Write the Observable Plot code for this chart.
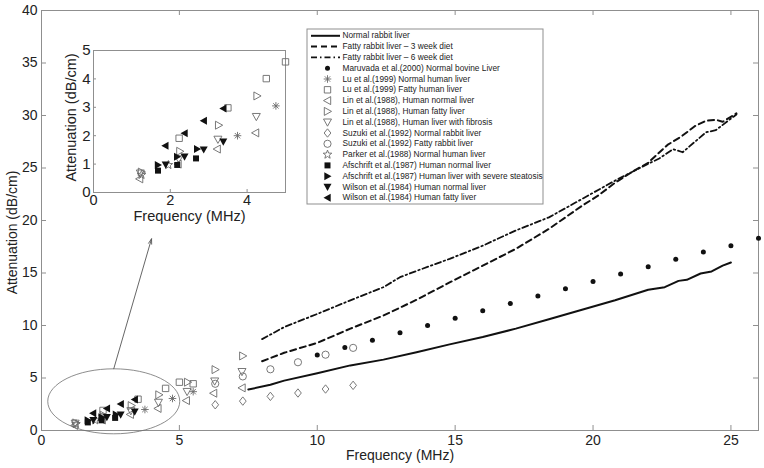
<!DOCTYPE html>
<html><head><meta charset="utf-8">
<script src="https://cdn.jsdelivr.net/npm/d3@7"></script>
<script src="https://cdn.jsdelivr.net/npm/@observablehq/plot@0.6"></script>
<style>
body{margin:0;background:#fff;}
#wrap{position:relative;width:764px;height:468px;overflow:hidden;background:#fff;}
#wrap svg{position:absolute;overflow:visible;}
</style></head><body><div id="wrap"></div>
<script>
// ---------------- data ----------------
const xTicks = [0, 5, 10, 15, 20, 25];
const yTicks = [0, 5, 10, 15, 20, 25, 30, 35, 40];
const insetXTicks = [0, 2, 4];
const insetYTicks = [0, 1, 2, 3, 4, 5];

const normalRabbitF = [7.5, 8.3, 8.8, 10.0, 11.2, 12.4, 13.6, 14.8, 16.0, 17.2, 18.4, 19.6, 20.8, 22.0, 22.6, 23.1, 23.4, 23.9, 24.3, 24.7, 25.0];
const normalRabbitA = [3.9, 4.35, 4.75, 5.45, 6.2, 6.75, 7.45, 8.2, 8.9, 9.7, 10.6, 11.5, 12.4, 13.4, 13.65, 14.25, 14.35, 14.95, 15.15, 15.7, 16.0];

const fatty3F = [8.0, 8.8, 10.0, 11.2, 12.4, 13.6, 14.8, 16.0, 17.2, 18.4, 19.6, 20.2, 20.8, 21.4, 22.0, 22.7, 23.2, 23.7, 24.1, 24.45, 24.7, 24.95, 25.2];
const fatty3A = [6.6, 7.4, 8.35, 9.7, 10.95, 12.45, 14.1, 15.7, 17.3, 19.2, 21.4, 22.4, 23.6, 24.6, 25.5, 27.2, 28.0, 29.0, 29.5, 29.6, 29.4, 29.8, 30.2];

const fatty6F = [8.0, 8.8, 10.0, 11.2, 12.4, 13.0, 13.6, 14.8, 16.0, 17.2, 18.4, 19.6, 20.8, 22.0, 22.4, 22.9, 23.25, 23.65, 24.1, 24.45, 24.85, 25.2];
const fatty6A = [8.7, 9.85, 11.1, 12.4, 13.65, 14.6, 15.2, 16.35, 17.6, 19.05, 20.3, 22.05, 23.8, 25.4, 25.9, 26.8, 26.5, 27.4, 28.4, 28.6, 29.4, 30.1];

const maruvadaF = [10, 11, 12, 13, 14, 15, 16, 17, 18, 19, 20, 21, 22, 23, 24, 25, 26];
const maruvadaA = [7.2, 7.9, 8.6, 9.3, 10.0, 10.7, 11.4, 12.1, 12.8, 13.5, 14.2, 14.9, 15.6, 16.3, 17.0, 17.6, 18.3];

const luNormalF = [3.75, 4.75, 5.5];
const luNormalA = [2.0, 3.05, 3.7];
const luFattyF = [2.23, 3.5, 4.5, 5.0, 5.5];
const luFattyA = [1.91, 2.98, 4.01, 4.6, 4.45];

const linNormalF = [1.2, 2.2, 3.22, 4.22, 5.25, 6.24, 7.27];
const linNormalA = [0.48, 1.0, 1.53, 2.1, 2.85, 3.55, 4.06];
const linFattyF = [1.25, 2.25, 3.26, 4.26, 5.3, 6.3, 7.3];
const linFattyA = [0.72, 1.45, 2.37, 3.4, 4.6, 5.8, 7.1];
const linFibrosisF = [1.22, 2.22, 3.24, 4.24, 5.28, 6.28, 7.27];
const linFibrosisA = [0.68, 1.18, 1.87, 2.67, 3.7, 4.7, 5.6];

const suzukiNormalF = [6.3, 7.3, 8.3, 9.3, 10.3, 11.3];
const suzukiNormalA = [2.45, 2.8, 3.25, 3.57, 3.95, 4.3];
const suzukiFattyF = [6.3, 7.3, 8.3, 9.3, 10.3, 11.3];
const suzukiFattyA = [4.45, 5.15, 5.83, 6.5, 7.22, 7.87];

const parkerF = [1.25, 1.95];
const parkerA = [0.62, 0.97];

const afNormalF = [1.68, 2.18, 2.67];
const afNormalA = [0.77, 0.97, 1.2];
const afSteatF = [1.68, 2.18, 2.7];
const afSteatA = [0.97, 1.26, 1.53];

const wilsonNormalF = [1.88, 2.37, 2.87, 3.38];
const wilsonNormalA = [0.98, 1.26, 1.51, 1.79];
const wilsonFattyF = [1.87, 2.37, 2.87, 3.38];
const wilsonFattyA = [1.65, 2.09, 2.53, 2.96];

const legendNames = [
  "Normal rabbit liver",
  "Fatty rabbit liver \u2013 3 week diet",
  "Fatty rabbit liver \u2013 6 week diet",
  "Maruvada et al.(2000) Normal bovine Liver",
  "Lu et al.(1999) Normal human liver",
  "Lu et al.(1999) Fatty human liver",
  "Lin et al.(1988), Human normal liver",
  "Lin et al.(1988), Human fatty liver",
  "Lin et al.(1988), Human liver with fibrosis",
  "Suzuki et al.(1992) Normal rabbit liver",
  "Suzuki et al.(1992) Fatty rabbit liver",
  "Parker et al.(1988) Normal human liver",
  "Afschrift et al.(1987) Human normal liver",
  "Afschrift et al.(1987) Human liver with severe steatosis",
  "Wilson et al.(1984) Human normal liver",
  "Wilson et al.(1984) Human fatty liver"
];

// annotation: zoom ellipse and arrow (in data units)
const zoomCenter = [{f: 2.62, a: 2.78}];
const zoomArrow = [{f1: 2.62, a1: 5.88, f2: 3.99, a2: 18.26}];

// ---------------- styles ----------------
const FONT = '"Liberation Sans", Arial, Helvetica, sans-serif';
const AX = "#8f8f8f";
const OPEN = "#6a6a6a";
const INK = "#111";

const zip = (F, A) => F.map((f, i) => ({f, a: A[i]}));

function sym(fn) { return {draw(c, size) { fn(c, Math.sqrt(size / Math.PI)); }}; }
const SYM = {
  triLeft: sym((c, r) => { c.moveTo(-r, 0); c.lineTo(0.8 * r, -r); c.lineTo(0.8 * r, r); c.closePath(); }),
  triRight: sym((c, r) => { c.moveTo(r, 0); c.lineTo(-0.8 * r, -r); c.lineTo(-0.8 * r, r); c.closePath(); }),
  triDown: sym((c, r) => { c.moveTo(0, r); c.lineTo(-r, -0.8 * r); c.lineTo(r, -0.8 * r); c.closePath(); }),
  square: sym((c, r) => { c.rect(-r, -r, 2 * r, 2 * r); }),
  diamond: sym((c, r) => { c.moveTo(0, -r); c.lineTo(0.8 * r, 0); c.lineTo(0, r); c.lineTo(-0.8 * r, 0); c.closePath(); }),
  circle: sym((c, r) => { c.moveTo(r, 0); c.arc(0, 0, r, 0, 2 * Math.PI); }),
  asterisk: sym((c, r) => { for (const t of [0, 45, 90, 135]) { const q = t * Math.PI / 180; c.moveTo(r * Math.cos(q), r * Math.sin(q)); c.lineTo(-r * Math.cos(q), -r * Math.sin(q)); } }),
  star: sym((c, r) => { for (let k = 0; k < 10; k++) { const q = -Math.PI / 2 + k * Math.PI / 5; const rr = k % 2 ? r * 0.42 : r; if (k) c.lineTo(rr * Math.cos(q), rr * Math.sin(q)); else c.moveTo(rr * Math.cos(q), rr * Math.sin(q)); } c.closePath(); })
};
const ellipseSym = {draw(c) {
  const rx = 66, ry = 32.5, k = 0.5523;
  c.moveTo(rx, 0);
  c.bezierCurveTo(rx, ry * k, rx * k, ry, 0, ry);
  c.bezierCurveTo(-rx * k, ry, -rx, ry * k, -rx, 0);
  c.bezierCurveTo(-rx, -ry * k, -rx * k, -ry, 0, -ry);
  c.bezierCurveTo(rx * k, -ry, rx, -ry * k, rx, 0);
  c.closePath();
}};

const open = (s, r) => ({symbol: SYM[s], r, fill: "none", stroke: OPEN, strokeWidth: 0.9});
const solid = (s, r) => ({symbol: SYM[s], r, fill: INK, stroke: "none"});

const lineSeries = [
  {F: normalRabbitF, A: normalRabbitA, style: {stroke: INK, strokeWidth: 2}},
  {F: fatty3F, A: fatty3A, style: {stroke: INK, strokeWidth: 2, strokeDasharray: "6,4"}},
  {F: fatty6F, A: fatty6A, style: {stroke: INK, strokeWidth: 1.8, strokeDasharray: "6,3,1.5,3"}}
];
const markerSeries = [
  {F: maruvadaF, A: maruvadaA, style: solid("circle", 2.5)},
  {F: luNormalF, A: luNormalA, style: open("asterisk", 3.8)},
  {F: luFattyF, A: luFattyA, style: open("square", 3.2)},
  {F: linNormalF, A: linNormalA, style: open("triLeft", 4)},
  {F: linFattyF, A: linFattyA, style: open("triRight", 4)},
  {F: linFibrosisF, A: linFibrosisA, style: open("triDown", 4)},
  {F: suzukiNormalF, A: suzukiNormalA, style: open("diamond", 4.2)},
  {F: suzukiFattyF, A: suzukiFattyA, style: open("circle", 3.6)},
  {F: parkerF, A: parkerA, style: open("star", 4.5)},
  {F: afNormalF, A: afNormalA, style: solid("square", 3)},
  {F: afSteatF, A: afSteatA, style: solid("triRight", 4)},
  {F: wilsonNormalF, A: wilsonNormalA, style: solid("triDown", 4)},
  {F: wilsonFattyF, A: wilsonFattyA, style: solid("triLeft", 4)}
];

const wrap = document.getElementById("wrap");
function place(svg, left, top) { svg.style.left = left + "px"; svg.style.top = top + "px"; wrap.appendChild(svg); }

// ---------------- main chart ----------------
const W = 764, H = 468, ML = 41, MR = 6, MT = 10, MB = 38;
const innerW = W - ML - MR, innerH = H - MT - MB;

const main = Plot.plot({
  width: W, height: H, marginLeft: ML, marginRight: MR, marginTop: MT, marginBottom: MB,
  x: {domain: [0, 26]}, y: {domain: [0, 40]},
  style: {fontFamily: FONT, fontSize: "14px", color: "#222", background: "transparent"},
  marks: [
    Plot.frame({stroke: AX}),
    Plot.tickX(xTicks, {x: d => d, stroke: AX, insetTop: innerH - 5}),
    Plot.tickX(xTicks, {x: d => d, stroke: AX, insetBottom: innerH - 5}),
    Plot.tickY(yTicks, {y: d => d, stroke: AX, insetRight: innerW - 5}),
    Plot.tickY(yTicks, {y: d => d, stroke: AX, insetLeft: innerW - 5}),
    Plot.axisX(xTicks, {tickSize: 0, tickPadding: 5, fontSize: 14, label: null, fill: "#222"}),
    Plot.axisY(yTicks, {tickSize: 0, tickPadding: 4, fontSize: 14, label: null, fill: "#222"}),
    Plot.text(["Frequency (MHz)"], {text: d => d, frameAnchor: "bottom", textAnchor: "middle", dy: 29, fontSize: 14, fill: "#222"}),
    Plot.text(["Attenuation (dB/cm)"], {text: d => d, frameAnchor: "left", textAnchor: "middle", dx: -29, dy: 12, rotate: -90, fontSize: 14, fill: "#222"}),
    ...lineSeries.map(s => Plot.line(zip(s.F, s.A), {x: "f", y: "a", ...s.style})),
    ...markerSeries.map(s => Plot.dot(zip(s.F, s.A), {x: "f", y: "a", ...s.style})),
    Plot.dot(zoomCenter, {x: "f", y: "a", symbol: ellipseSym, r: 1, fill: "none", stroke: "#707070", strokeWidth: 0.8}),
    Plot.arrow(zoomArrow, {x1: "f1", y1: "a1", x2: "f2", y2: "a2", stroke: "#555", strokeWidth: 0.9, headLength: 9, headAngle: 35})
  ]
});
place(main, 0, 0);

// ---------------- inset ----------------
const IW = 250, IH = 190, IML = 48, IMR = 10, IMT = 12, IMB = 36;
const iInnerW = IW - IML - IMR, iInnerH = IH - IMT - IMB;
const inRange = d => d.f <= 5.05 && d.a <= 5;
const inset = Plot.plot({
  width: IW, height: IH, marginLeft: IML, marginRight: IMR, marginTop: IMT, marginBottom: IMB,
  x: {domain: [0, 5]}, y: {domain: [0, 5]},
  style: {fontFamily: FONT, fontSize: "15px", color: "#222", background: "transparent"},
  marks: [
    Plot.frame({fill: "white", stroke: AX}),
    Plot.tickX(insetXTicks, {x: d => d, stroke: AX, insetTop: iInnerH - 3}),
    Plot.tickY(insetYTicks, {y: d => d, stroke: AX, insetRight: iInnerW - 3}),
    Plot.axisX(insetXTicks, {tickSize: 0, tickPadding: 2, fontSize: 14.5, label: null, fill: "#222"}),
    Plot.axisY(insetYTicks, {tickSize: 0, tickPadding: 3, fontSize: 15, label: null, fill: "#222"}),
    Plot.text(["Frequency (MHz)"], {text: d => d, frameAnchor: "bottom", textAnchor: "middle", dy: 28, fontSize: 14.5, fill: "#222"}),
    Plot.text(["Attenuation (dB/cm)"], {text: d => d, frameAnchor: "left", textAnchor: "middle", dx: -22, dy: -4, rotate: -90, fontSize: 14.5, fill: "#222"}),
    ...markerSeries.map(s => Plot.dot(zip(s.F, s.A).filter(inRange), {x: "f", y: "a", ...s.style}))
  ]
});
place(inset, 45, 38);

// ---------------- legend ----------------
const LW = 237, LH = 176;
const rows = legendNames.map((name, i) => ({name, y: 7.3 + 10.8 * i}));
const legendStyles = [...lineSeries.map(s => ({kind: "line", style: s.style})), ...markerSeries.map(s => ({kind: "dot", style: s.style}))];
const legend = Plot.plot({
  width: LW, height: LH, margin: 0,
  x: {domain: [0, LW], range: [0, LW], axis: null},
  y: {domain: [0, LH], range: [0, LH], axis: null},
  style: {fontFamily: FONT, background: "transparent"},
  marks: [
    Plot.frame({fill: "white", stroke: AX, inset: 0.5}),
    ...rows.map((row, i) => legendStyles[i].kind === "line"
      ? Plot.ruleY([row], {y: "y", x1: 5, x2: 34, ...legendStyles[i].style})
      : Plot.dot([row], {x: 21, y: "y", ...legendStyles[i].style})),
    Plot.text(rows, {x: 36, y: "y", text: "name", textAnchor: "start", fontSize: 8.3, fill: "#222"})
  ]
});
place(legend, 306, 28);
</script>
</body></html>
